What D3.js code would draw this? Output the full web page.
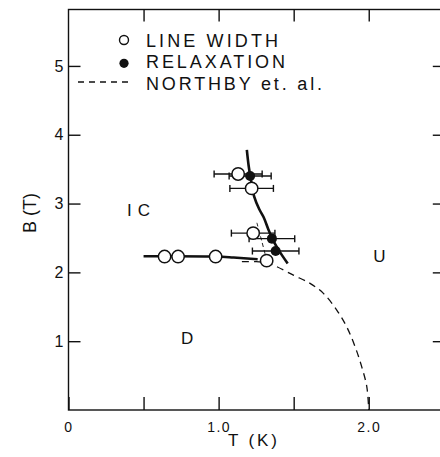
<!DOCTYPE html>
<html><head><meta charset="utf-8">
<script src="https://cdn.jsdelivr.net/npm/d3@7"></script>
<style>
html,body{margin:0;padding:0;background:#fff;}
svg{display:block;}
text{font-family:"Liberation Sans","DejaVu Sans",sans-serif;fill:#111;}
</style></head>
<body>
<svg id="c" width="440" height="457"></svg>
<script>
// ---- data ----
const xTicks = [0, 0.5, 1.0, 1.5, 2.0];
const xTickLabels = {0: "0", 1: "1.0", 2: "2.0"};
const yTicks = [1, 2, 3, 4, 5];
// open circles: line width [T, B, Terr]
const lineWidth = [[0.64,2.23,0],[0.73,2.23,0],[0.98,2.23,0],[1.13,3.43,0.16],[1.22,3.22,0.145],[1.23,2.57,0.145],[1.32,2.17,0]];
// filled circles: relaxation [T, B, Terr]
const relaxation = [[1.21,3.40,0.14],[1.355,2.49,0.152],[1.38,2.31,0.155]];
// solid boundaries
const steepLine = [[1.188,3.78],[1.20,3.55],[1.215,3.35],[1.237,3.10],[1.27,2.92],[1.30,2.80],[1.332,2.62],[1.36,2.48],[1.39,2.36],[1.425,2.24],[1.46,2.13]];
const flatLine = [[0.50,2.235],[0.64,2.235],[0.98,2.23],[1.10,2.215],[1.26,2.19]];
// Northby et al. (dashed)
const northbyMain = [[1.155,2.155],[1.25,2.155],[1.32,2.14],[1.365,2.106],[1.498,1.96],[1.609,1.84],[1.698,1.695],[1.787,1.452],[1.853,1.21],[1.909,0.92],[1.953,0.63],[1.987,0.34],[2.0,0]];
const northbyBranch = [[1.255,2.72],[1.288,2.45],[1.32,2.18]];
const regions = [["IC",0.39,2.82,23],["U",2.03,2.15,0],["D",0.75,0.96,0]];
const legendItems = ["LINE WIDTH","RELAXATION","NORTHBY et. al."];

// ---- scales ----
const x = d3.scaleLinear().domain([0, 2.5]).range([68.5, 443.8]);
const y = d3.scaleLinear().domain([0, 5.82]).range([410, 9.5]);
const svg = d3.select("#c");
const line = d3.line().x(d=>x(d[0])).y(d=>y(d[1])).curve(d3.curveCatmullRom);

// frame
svg.append("rect").attr("x",x(0)).attr("y",y(5.82)).attr("width",x(2.5)-x(0)).attr("height",y(0)-y(5.82))
  .attr("fill","none").attr("stroke","#111").attr("stroke-width",1.4);

// axes
const ax = svg.append("g").attr("transform",`translate(0,${y(0)})`)
  .call(d3.axisBottom(x).tickValues(xTicks).tickSize(-13).tickPadding(12).tickFormat(d=>xTickLabels[d]||""));
const axT = svg.append("g").attr("transform",`translate(0,${y(5.82)})`)
  .call(d3.axisTop(x).tickValues(xTicks.slice(1)).tickSize(-12).tickFormat(""));
const ay = svg.append("g").attr("transform",`translate(${x(0)},0)`)
  .call(d3.axisLeft(y).tickValues(yTicks).tickSize(-12).tickPadding(5).tickFormat(d3.format("d")));
const ayR = svg.append("g").attr("transform",`translate(${x(2.5)},0)`)
  .call(d3.axisRight(y).tickValues(yTicks).tickSize(-11).tickFormat(""));
[ax,axT,ay,ayR].forEach(g=>{
  g.select(".domain").remove();
  g.selectAll("line").attr("stroke","#111").attr("stroke-width",1.4);
  g.selectAll("text").attr("font-family",'"DejaVu Sans","Liberation Sans",sans-serif').attr("fill","#111");
});
ax.selectAll("text").attr("font-size",14).attr("letter-spacing",1.5);
ay.selectAll("text").attr("font-size",16);

// axis titles
svg.append("text").attr("x",228).attr("y",446).attr("font-size",17)
  .attr("textLength",49).attr("lengthAdjust","spacing").text("T (K)");
svg.append("text").attr("transform","translate(36,213) rotate(-90)").attr("text-anchor","middle").attr("font-size",18).text("B (T)");

// region labels
regions.forEach(r=>{
  const t = svg.append("text").attr("x",x(r[1])).attr("y",y(r[2])).attr("font-size",17).text(r[0]);
  if (r[3]) t.attr("textLength",r[3]).attr("lengthAdjust","spacing");
});

// Northby dashed
svg.append("path").attr("d",line(northbyMain)).attr("fill","none").attr("stroke","#111").attr("stroke-width",1.3).attr("stroke-dasharray","7,5");
svg.append("path").attr("d",line(northbyBranch)).attr("fill","none").attr("stroke","#222").attr("stroke-width",1).attr("stroke-dasharray","4,3");

// solid lines
svg.append("path").attr("d",line(steepLine)).attr("fill","none").attr("stroke","#111").attr("stroke-width",2.6);
svg.append("path").attr("d",line(flatLine)).attr("fill","none").attr("stroke","#111").attr("stroke-width",2.6);

// error bars
const allPts = lineWidth.concat(relaxation).filter(d=>d[2]>0);
const eb = svg.append("g").attr("stroke","#111").attr("stroke-width",1.4);
allPts.forEach(d=>{
  const yy = y(d[1]);
  eb.append("line").attr("x1",x(d[0]-d[2])).attr("x2",x(d[0]+d[2])).attr("y1",yy).attr("y2",yy);
  eb.append("line").attr("x1",x(d[0]-d[2])).attr("x2",x(d[0]-d[2])).attr("y1",yy-3.5).attr("y2",yy+3.5);
  eb.append("line").attr("x1",x(d[0]+d[2])).attr("x2",x(d[0]+d[2])).attr("y1",yy-3.5).attr("y2",yy+3.5);
});

// circles
svg.append("g").selectAll("circle").data(lineWidth).join("circle")
  .attr("cx",d=>x(d[0])).attr("cy",d=>y(d[1])).attr("r",6.2)
  .attr("fill","#fff").attr("stroke","#111").attr("stroke-width",1.5);
svg.append("g").selectAll("circle").data(relaxation).join("circle")
  .attr("cx",d=>x(d[0])).attr("cy",d=>y(d[1])).attr("r",5)
  .attr("fill","#111");

// legend
const lg = svg.append("g");
lg.append("circle").attr("cx",124).attr("cy",40).attr("r",4.5).attr("fill","#fff").attr("stroke","#111").attr("stroke-width",1.4);
lg.append("circle").attr("cx",124).attr("cy",63.3).attr("r",4.6).attr("fill","#111");
lg.append("line").attr("x1",78).attr("x2",128).attr("y1",82).attr("y2",82).attr("stroke","#111").attr("stroke-width",1.3).attr("stroke-dasharray","6,5");
const lens = [132,139,176];
const bases = [46.5,68.3,90];
legendItems.forEach((t,i)=>{
  lg.append("text").attr("x",146).attr("y",bases[i]).attr("font-size",18)
    .attr("textLength",lens[i]).attr("lengthAdjust","spacing").text(t);
});
</script>
</body></html>
